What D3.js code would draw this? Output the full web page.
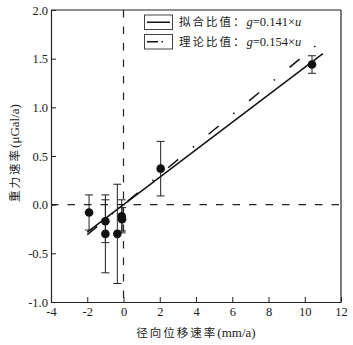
<!DOCTYPE html>
<html><head><meta charset="utf-8">
<script src="https://cdn.jsdelivr.net/npm/d3@7"></script>
<style>body{margin:0;background:#fff}svg{display:block}</style>
</head><body>
<script>
const uVals = [-1.9, -1.0, -1.0, -0.34, -0.1, -0.08, 2.05, 10.4];
const gVals = [-0.08, -0.17, -0.30, -0.30, -0.12, -0.15, 0.37, 1.44];
const errVals = [0.18, 0.22, 0.40, 0.51, 0.17, 0.12, 0.28, 0.09];
const fitSlope = 0.141, fitRange = [-2, 11];
const theorySlope = 0.154, theoryRange = [-2, 10.6];
const xTicks = [-4, -2, 0, 2, 4, 6, 8, 10, 12];
const yTicks = [-1.0, -0.5, 0.0, 0.5, 1.0, 1.5, 2.0];
const legendLabels = [["拟合比值：", "0.141"], ["理论比值：", "0.154"]];

const W = 353, H = 345;
const m = {l: 51, r: 12, t: 10, b: 43};
const svg = d3.select("body").append("svg").attr("width", W).attr("height", H);
const x = d3.scaleLinear().domain([-4, 12]).range([m.l, W - m.r]);
const y = d3.scaleLinear().domain([-1, 2]).range([H - m.b, m.t]);
const serif = "'Liberation Serif','Times New Roman',serif";
const cjk = "'Noto Sans CJK SC',sans-serif";
const ink = "#222";
const hy = s => s.replace("−", "-");

// reference dashed lines
svg.append("line").attr("x1", x(-4)).attr("x2", x(12)).attr("y1", y(0)).attr("y2", y(0))
  .attr("stroke", ink).attr("stroke-width", 1.2).attr("stroke-dasharray", "7.5,9");
svg.append("line").attr("x1", x(0)).attr("x2", x(0)).attr("y1", y(2)).attr("y2", y(-1))
  .attr("stroke", ink).attr("stroke-width", 1.2).attr("stroke-dasharray", "7.5,9");

// axes
const xAxis = d3.axisBottom(x).tickValues(xTicks).tickSizeInner(-5).tickSizeOuter(0).tickFormat(d => hy(d3.format("d")(d)));
const yAxis = d3.axisLeft(y).tickValues(yTicks).tickSizeInner(-5).tickSizeOuter(0).tickFormat(d => hy(d3.format(".1f")(d)));
const gx = svg.append("g").attr("transform", `translate(0,${y(-1)})`).call(xAxis);
const gy = svg.append("g").attr("transform", `translate(${x(-4)},0)`).call(yAxis);
[gx, gy].forEach(g => {
  g.select(".domain").attr("stroke", ink).attr("stroke-width", 1.2);
  g.selectAll(".tick line").attr("stroke", ink).attr("stroke-width", 1);
  g.selectAll(".tick text").attr("font-family", serif).attr("font-size", 12.5).attr("fill", ink);
});
gx.selectAll(".tick text").attr("dy", "0.9em").attr("y", 3);
gy.selectAll(".tick text").attr("x", -3);
// top and right frame
svg.append("line").attr("x1", x(-4)).attr("x2", x(12)).attr("y1", y(2)).attr("y2", y(2)).attr("stroke", ink).attr("stroke-width", 1.2);
svg.append("line").attr("x1", x(12)).attr("x2", x(12)).attr("y1", y(2)).attr("y2", y(-1)).attr("stroke", ink).attr("stroke-width", 1.2);

// fit lines
svg.append("line").attr("x1", x(fitRange[0])).attr("y1", y(fitSlope * fitRange[0]))
  .attr("x2", x(fitRange[1])).attr("y2", y(fitSlope * fitRange[1]))
  .attr("stroke", "#111").attr("stroke-width", 1.5);
svg.append("line").attr("x1", x(theoryRange[0])).attr("y1", y(theorySlope * theoryRange[0]))
  .attr("x2", x(theoryRange[1])).attr("y2", y(theorySlope * theoryRange[1]))
  .attr("stroke", "#111").attr("stroke-width", 1.5).attr("stroke-dasharray", "13,19,1.5,19");

// error bars and points
const pts = uVals.map((u, i) => ({u, g: gVals[i], e: errVals[i]}));
const eb = svg.append("g").attr("stroke", ink).attr("stroke-width", 1);
pts.forEach(p => {
  eb.append("line").attr("x1", x(p.u)).attr("x2", x(p.u)).attr("y1", y(p.g + p.e)).attr("y2", y(p.g - p.e));
  [p.g + p.e, p.g - p.e].forEach(v => eb.append("line")
    .attr("x1", x(p.u) - 4).attr("x2", x(p.u) + 4).attr("y1", y(v)).attr("y2", y(v)));
});
svg.append("g").selectAll("circle").data(pts).join("circle")
  .attr("cx", d => x(d.u)).attr("cy", d => y(d.g)).attr("r", 4.3).attr("fill", "#111");

// legend
const lg = svg.append("g");
legendLabels.forEach((lab, i) => {
  const top = 15 + i * 19.5;
  lg.append("rect").attr("x", 144.5).attr("y", top).attr("width", 28).attr("height", 14.5)
    .attr("fill", "none").attr("stroke", "#444").attr("stroke-width", 1);
  const ly = top + 7.25;
  if (i === 0) {
    lg.append("line").attr("x1", 147).attr("x2", 170).attr("y1", ly).attr("y2", ly).attr("stroke", "#111").attr("stroke-width", 1.5);
  } else {
    lg.append("line").attr("x1", 147).attr("x2", 163).attr("y1", ly).attr("y2", ly).attr("stroke", "#111").attr("stroke-width", 1.5).attr("stroke-dasharray", "11,3.5,1.5,10");
  }
  const t = lg.append("text").attr("x", 179).attr("y", ly + 4.2).attr("font-size", 12.5).attr("fill", ink);
  t.append("tspan").attr("font-family", cjk).attr("font-size", 11.5).attr("letter-spacing", 2).text(lab[0]);
  t.append("tspan").attr("font-family", serif).attr("font-style", "italic").text("g");
  t.append("tspan").attr("font-family", serif).text("=" + lab[1] + "×");
  t.append("tspan").attr("font-family", serif).attr("font-style", "italic").text("u");
});

// axis titles
const xt = svg.append("text").attr("x", (x(-4) + x(12)) / 2).attr("y", 337).attr("text-anchor", "middle").attr("fill", ink);
xt.append("tspan").attr("font-family", cjk).attr("font-size", 11.5).attr("letter-spacing", 2).text("径向位移速率");
xt.append("tspan").attr("font-family", serif).attr("font-size", 13).text("(mm/a)");
const yt = svg.append("text").attr("transform", `translate(19,${(y(2) + y(-1)) / 2 - 3}) rotate(-90)`).attr("text-anchor", "middle").attr("fill", ink);
yt.append("tspan").attr("font-family", cjk).attr("font-size", 11.5).attr("letter-spacing", 2).text("重力速率");
yt.append("tspan").attr("font-family", serif).attr("font-size", 13).text("(μGal/a)");
</script>
</body></html>
